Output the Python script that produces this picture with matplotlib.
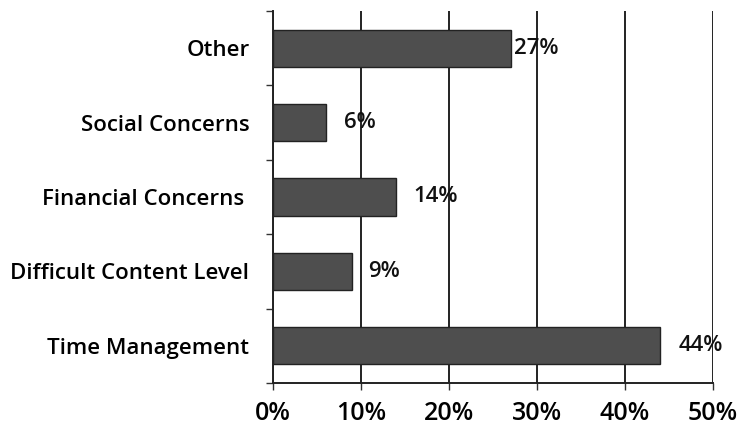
import matplotlib
matplotlib.use("Agg")
import matplotlib.pyplot as plt
import numpy as np

categories = ["Time Management", "Difficult Content Level", "Financial Concerns ", "Social Concerns", "Other"]
values = [44, 9, 14, 6, 27]
value_labels = ["44%", "9%", "14%", "6%", "27%"]
xticks = [0, 10, 20, 30, 40, 50]
xtick_labels = ["0%", "10%", "20%", "30%", "40%", "50%"]
label_offsets_px = [18, 16, 17, 18, 3]

plt.rcParams['font.family'] = ['Open Sans', 'DejaVu Sans']

fig = plt.figure(figsize=(7.39, 4.38), dpi=100)
ax = fig.add_axes([273/739, 1 - 383/438, (713-273)/739, (383-11)/438])

y = np.arange(len(categories))
ax.barh(y, values, height=0.5, color="#4e4e4e", edgecolor="#222222", linewidth=1, zorder=3)

ax.set_xlim(0, 50)
ax.set_ylim(-0.5, len(categories) - 0.5)
ax.set_xticks(xticks)
ax.set_xticklabels(xtick_labels, fontsize=18, fontweight='semibold')
ax.xaxis.grid(True, color="#222222", linewidth=1.4, zorder=1)
ax.set_axisbelow(True)

ax.set_yticks(y)
ax.set_yticklabels(categories, fontsize=16, fontweight='semibold')
ax.tick_params(axis='y', length=0, pad=17)
ax.set_yticks(np.arange(-0.5, len(categories)), minor=True)
ax.tick_params(axis='y', which='minor', length=5, width=1, color="#333333")
ax.tick_params(axis='x', length=5, width=1, color="#333333", pad=8)

for s in ["top", "right"]:
    ax.spines[s].set_visible(False)
for s in ["left", "bottom"]:
    ax.spines[s].set_color("#222222")
    ax.spines[s].set_linewidth(1.4)

for yi, v, lab, off in zip(y, values, value_labels, label_offsets_px):
    ax.annotate(lab, xy=(v, yi), xytext=(off, 0), textcoords="offset pixels",
                va="center", ha="left", fontsize=16, fontweight='semibold',
                color="#111111", zorder=4)

fig.savefig("out.png", dpi=100)
